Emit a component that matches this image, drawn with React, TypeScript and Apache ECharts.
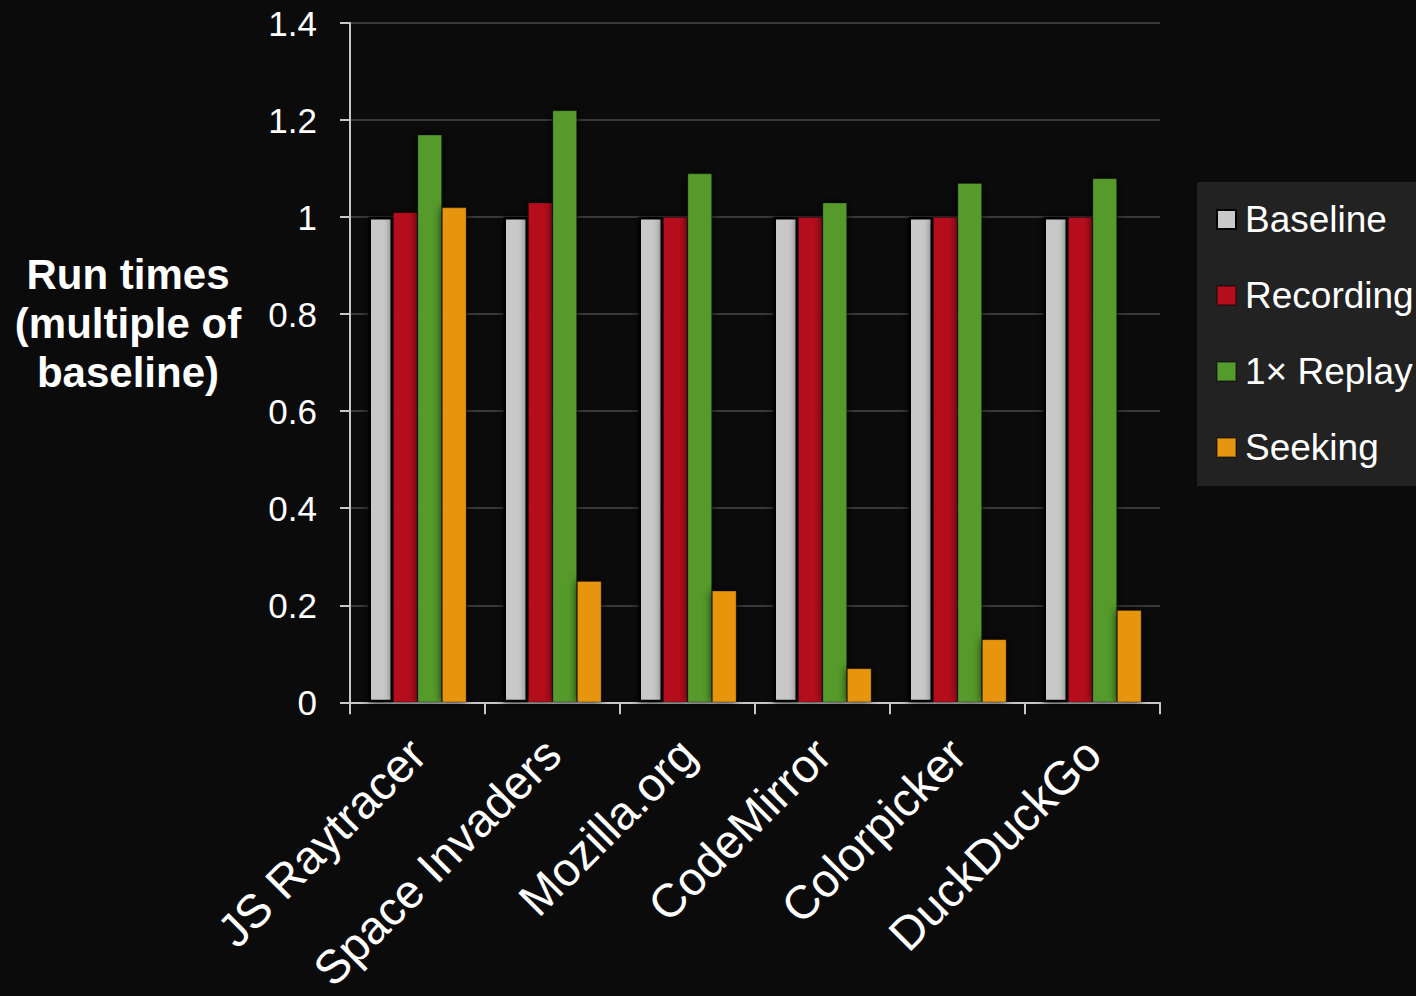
import React, { useEffect, useRef } from 'react';
import * as echarts from 'echarts';

const categories = ['JS Raytracer', 'Space Invaders', 'Mozilla.org', 'CodeMirror', 'Colorpicker', 'DuckDuckGo'];
const seriesNames = ['Baseline', 'Recording', '1× Replay', 'Seeking'];
const baselineValues = [1.0, 1.0, 1.0, 1.0, 1.0, 1.0];
const recordingValues = [1.01, 1.03, 1.0, 1.0, 1.0, 1.0];
const replayValues = [1.17, 1.22, 1.09, 1.03, 1.07, 1.08];
const seekingValues = [1.02, 0.25, 0.23, 0.07, 0.13, 0.19];
const seriesColors = ['#c8c8c8', '#b50d1e', '#559a2c', '#e6950f'];
const yAxisTitle = 'Run times\n(multiple of\nbaseline)';

const FONT = '"Liberation Sans", Arial, Helvetica, sans-serif';

export default function App() {
  const ref = useRef<HTMLDivElement>(null);
  useEffect(() => {
    if (!ref.current) return;
    const chart = echarts.init(ref.current, undefined, { renderer: 'svg' });
    const values = [baselineValues, recordingValues, replayValues, seekingValues];
    const series = seriesNames.map((name, i) => ({
      name,
      type: 'bar',
      data: values[i],
      barGap: '0%',
      barCategoryGap: '27.4%',
      itemStyle: {
        color: seriesColors[i],
        borderColor: i === 0 ? '#000' : 'rgba(0,0,0,0.35)',
        borderWidth: i === 0 ? 2.5 : 0.8,
        shadowBlur: 10,
        shadowColor: 'rgba(0,0,0,0.85)',
      },
    }));
    chart.setOption({
      animation: false,
      backgroundColor: '#0b0b0b',
      textStyle: { fontFamily: FONT },
      grid: { left: 350, right: 256, top: 23, bottom: 291, containLabel: false },
      legend: {
        data: seriesNames,
        orient: 'vertical',
        left: 1197,
        top: 182,
        backgroundColor: '#222222',
        padding: [19, 40, 20, 19],
        itemGap: 39,
        itemWidth: 19,
        itemHeight: 19,
        icon: 'rect',
        textStyle: { color: '#ffffff', fontSize: 37, fontFamily: FONT, padding: [0, 0, 0, 4] },
        itemStyle: { shadowBlur: 0 },
      },
      xAxis: {
        type: 'category',
        data: categories,
        axisLine: { lineStyle: { color: '#c8c8c8', width: 2 } },
        axisTick: { show: true, length: 12, lineStyle: { color: '#c8c8c8', width: 2 } },
        axisLabel: {
          color: '#ffffff',
          fontSize: 47,
          fontFamily: FONT,
          rotate: 45,
          margin: 44,
          interval: 0,
        },
        splitLine: { show: false },
      },
      yAxis: {
        type: 'value',
        min: 0,
        max: 1.4,
        interval: 0.2,
        axisLine: { show: true, lineStyle: { color: '#c8c8c8', width: 2 } },
        axisTick: { show: true, length: 10, lineStyle: { color: '#c8c8c8', width: 2 } },
        axisLabel: { color: '#ffffff', fontSize: 35, fontFamily: FONT, margin: 33 },
        splitLine: { show: true, lineStyle: { color: '#4a4a4a', width: 1.5 } },
      },
      graphic: [
        {
          type: 'text',
          x: 128,
          y: 323,
          style: {
            text: yAxisTitle,
            fill: '#ffffff',
            font: `bold 42px ${FONT}`,
            lineHeight: 49,
            textAlign: 'center',
            textVerticalAlign: 'middle',
          },
        },
      ],
      series,
    });
    return () => chart.dispose();
  }, []);
  return (
    <div
      ref={ref}
      style={{ position: 'fixed', left: 0, top: 0, width: 1416, height: 996 }}
    />
  );
}
